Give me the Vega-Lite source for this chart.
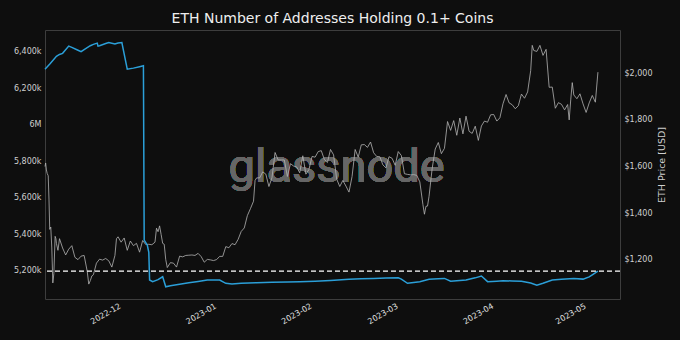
{
  "$schema": "https://vega.github.io/schema/vega-lite/v6.json",
  "width": 575,
  "height": 269,
  "autosize": {"type": "none"},
  "padding": {"left": 45, "top": 30, "right": 60, "bottom": 41},
  "background": "#0e0e0e",
  "title": {
    "text": "ETH Number of Addresses Holding 0.1+ Coins",
    "font": "DejaVu Sans",
    "fontSize": 14,
    "fontWeight": "normal",
    "color": "#eeeeee",
    "anchor": "middle",
    "offset": 4
  },
  "config": {
    "view": {"stroke": "#3d3d3d", "strokeWidth": 1},
    "axis": {
      "labelFont": "DejaVu Sans",
      "labelFontSize": 8,
      "labelColor": "#cfcfcf",
      "domain": false,
      "ticks": false,
      "grid": false,
      "labelPadding": 4,
      "labelFlush": false,
      "labelOverlap": false,
      "titleFont": "DejaVu Sans",
      "titleFontWeight": "normal",
      "titleColor": "#cfcfcf"
    }
  },
  "datasets": {
    "price": [
      {"date": "2022-11-07T07:00:00Z", "price": 1600},
      {"date": "2022-11-07T12:00:00Z", "price": 1615},
      {"date": "2022-11-07T18:00:00Z", "price": 1585},
      {"date": "2022-11-08T00:00:00Z", "price": 1570},
      {"date": "2022-11-08T08:00:00Z", "price": 1560},
      {"date": "2022-11-08T14:00:00Z", "price": 1460},
      {"date": "2022-11-08T20:00:00Z", "price": 1330},
      {"date": "2022-11-09T04:00:00Z", "price": 1340},
      {"date": "2022-11-09T12:00:00Z", "price": 1250},
      {"date": "2022-11-09T20:00:00Z", "price": 1100},
      {"date": "2022-11-10T04:00:00Z", "price": 1140},
      {"date": "2022-11-10T14:00:00Z", "price": 1300},
      {"date": "2022-11-10T20:00:00Z", "price": 1290},
      {"date": "2022-11-11T00:00:00Z", "price": 1270},
      {"date": "2022-11-11T12:00:00Z", "price": 1240},
      {"date": "2022-11-12T00:00:00Z", "price": 1290},
      {"date": "2022-11-13T00:00:00Z", "price": 1250},
      {"date": "2022-11-14T00:00:00Z", "price": 1220},
      {"date": "2022-11-15T00:00:00Z", "price": 1245},
      {"date": "2022-11-16T00:00:00Z", "price": 1260},
      {"date": "2022-11-17T00:00:00Z", "price": 1210},
      {"date": "2022-11-18T00:00:00Z", "price": 1200},
      {"date": "2022-11-19T00:00:00Z", "price": 1215},
      {"date": "2022-11-20T00:00:00Z", "price": 1218},
      {"date": "2022-11-21T00:00:00Z", "price": 1150},
      {"date": "2022-11-21T12:00:00Z", "price": 1095},
      {"date": "2022-11-22T00:00:00Z", "price": 1110},
      {"date": "2022-11-22T12:00:00Z", "price": 1130},
      {"date": "2022-11-23T00:00:00Z", "price": 1135},
      {"date": "2022-11-24T00:00:00Z", "price": 1185},
      {"date": "2022-11-25T00:00:00Z", "price": 1202},
      {"date": "2022-11-26T00:00:00Z", "price": 1198},
      {"date": "2022-11-27T00:00:00Z", "price": 1205},
      {"date": "2022-11-28T00:00:00Z", "price": 1195},
      {"date": "2022-11-29T00:00:00Z", "price": 1168},
      {"date": "2022-11-30T00:00:00Z", "price": 1218},
      {"date": "2022-11-30T12:00:00Z", "price": 1290},
      {"date": "2022-12-01T00:00:00Z", "price": 1298},
      {"date": "2022-12-02T00:00:00Z", "price": 1275},
      {"date": "2022-12-03T00:00:00Z", "price": 1293},
      {"date": "2022-12-04T00:00:00Z", "price": 1240},
      {"date": "2022-12-05T00:00:00Z", "price": 1280},
      {"date": "2022-12-06T00:00:00Z", "price": 1260},
      {"date": "2022-12-07T00:00:00Z", "price": 1270},
      {"date": "2022-12-08T00:00:00Z", "price": 1232},
      {"date": "2022-12-09T00:00:00Z", "price": 1282},
      {"date": "2022-12-10T00:00:00Z", "price": 1265},
      {"date": "2022-12-11T00:00:00Z", "price": 1266},
      {"date": "2022-12-12T00:00:00Z", "price": 1264},
      {"date": "2022-12-13T00:00:00Z", "price": 1275},
      {"date": "2022-12-13T12:00:00Z", "price": 1335},
      {"date": "2022-12-14T00:00:00Z", "price": 1320},
      {"date": "2022-12-14T12:00:00Z", "price": 1345},
      {"date": "2022-12-15T00:00:00Z", "price": 1308},
      {"date": "2022-12-15T12:00:00Z", "price": 1270},
      {"date": "2022-12-16T00:00:00Z", "price": 1266},
      {"date": "2022-12-16T12:00:00Z", "price": 1200},
      {"date": "2022-12-17T00:00:00Z", "price": 1166},
      {"date": "2022-12-18T00:00:00Z", "price": 1187},
      {"date": "2022-12-19T00:00:00Z", "price": 1185},
      {"date": "2022-12-20T00:00:00Z", "price": 1168},
      {"date": "2022-12-21T00:00:00Z", "price": 1215},
      {"date": "2022-12-22T00:00:00Z", "price": 1212},
      {"date": "2022-12-23T00:00:00Z", "price": 1218},
      {"date": "2022-12-24T00:00:00Z", "price": 1219},
      {"date": "2022-12-25T00:00:00Z", "price": 1220},
      {"date": "2022-12-26T00:00:00Z", "price": 1218},
      {"date": "2022-12-27T00:00:00Z", "price": 1227},
      {"date": "2022-12-28T00:00:00Z", "price": 1213},
      {"date": "2022-12-29T00:00:00Z", "price": 1189},
      {"date": "2022-12-30T00:00:00Z", "price": 1201},
      {"date": "2022-12-31T00:00:00Z", "price": 1199},
      {"date": "2023-01-01T00:00:00Z", "price": 1196},
      {"date": "2023-01-02T00:00:00Z", "price": 1200},
      {"date": "2023-01-03T00:00:00Z", "price": 1214},
      {"date": "2023-01-04T00:00:00Z", "price": 1214},
      {"date": "2023-01-05T00:00:00Z", "price": 1256},
      {"date": "2023-01-06T00:00:00Z", "price": 1251},
      {"date": "2023-01-07T00:00:00Z", "price": 1269},
      {"date": "2023-01-08T00:00:00Z", "price": 1264},
      {"date": "2023-01-09T00:00:00Z", "price": 1287},
      {"date": "2023-01-10T00:00:00Z", "price": 1321},
      {"date": "2023-01-11T00:00:00Z", "price": 1336},
      {"date": "2023-01-12T00:00:00Z", "price": 1389},
      {"date": "2023-01-13T00:00:00Z", "price": 1419},
      {"date": "2023-01-14T00:00:00Z", "price": 1451},
      {"date": "2023-01-14T12:00:00Z", "price": 1540},
      {"date": "2023-01-15T00:00:00Z", "price": 1551},
      {"date": "2023-01-16T00:00:00Z", "price": 1551},
      {"date": "2023-01-17T00:00:00Z", "price": 1577},
      {"date": "2023-01-18T00:00:00Z", "price": 1567},
      {"date": "2023-01-19T00:00:00Z", "price": 1514},
      {"date": "2023-01-20T00:00:00Z", "price": 1552},
      {"date": "2023-01-21T00:00:00Z", "price": 1660},
      {"date": "2023-01-22T00:00:00Z", "price": 1628},
      {"date": "2023-01-23T00:00:00Z", "price": 1628},
      {"date": "2023-01-24T00:00:00Z", "price": 1628},
      {"date": "2023-01-25T00:00:00Z", "price": 1557},
      {"date": "2023-01-26T00:00:00Z", "price": 1612},
      {"date": "2023-01-27T00:00:00Z", "price": 1602},
      {"date": "2023-01-28T00:00:00Z", "price": 1598},
      {"date": "2023-01-29T00:00:00Z", "price": 1573},
      {"date": "2023-01-30T00:00:00Z", "price": 1646},
      {"date": "2023-01-31T00:00:00Z", "price": 1567},
      {"date": "2023-02-01T00:00:00Z", "price": 1587},
      {"date": "2023-02-02T00:00:00Z", "price": 1643},
      {"date": "2023-02-03T00:00:00Z", "price": 1640},
      {"date": "2023-02-04T00:00:00Z", "price": 1664},
      {"date": "2023-02-05T00:00:00Z", "price": 1668},
      {"date": "2023-02-06T00:00:00Z", "price": 1630},
      {"date": "2023-02-07T00:00:00Z", "price": 1617},
      {"date": "2023-02-08T00:00:00Z", "price": 1673},
      {"date": "2023-02-09T00:00:00Z", "price": 1650},
      {"date": "2023-02-10T00:00:00Z", "price": 1546},
      {"date": "2023-02-11T00:00:00Z", "price": 1514},
      {"date": "2023-02-12T00:00:00Z", "price": 1540},
      {"date": "2023-02-13T00:00:00Z", "price": 1516},
      {"date": "2023-02-14T00:00:00Z", "price": 1490},
      {"date": "2023-02-15T00:00:00Z", "price": 1557},
      {"date": "2023-02-16T00:00:00Z", "price": 1673},
      {"date": "2023-02-17T00:00:00Z", "price": 1640},
      {"date": "2023-02-18T00:00:00Z", "price": 1693},
      {"date": "2023-02-19T00:00:00Z", "price": 1694},
      {"date": "2023-02-20T00:00:00Z", "price": 1682},
      {"date": "2023-02-21T00:00:00Z", "price": 1705},
      {"date": "2023-02-22T00:00:00Z", "price": 1659},
      {"date": "2023-02-23T00:00:00Z", "price": 1643},
      {"date": "2023-02-24T00:00:00Z", "price": 1642},
      {"date": "2023-02-25T00:00:00Z", "price": 1607},
      {"date": "2023-02-26T00:00:00Z", "price": 1594},
      {"date": "2023-02-27T00:00:00Z", "price": 1642},
      {"date": "2023-02-28T00:00:00Z", "price": 1635},
      {"date": "2023-03-01T00:00:00Z", "price": 1605},
      {"date": "2023-03-02T00:00:00Z", "price": 1664},
      {"date": "2023-03-03T00:00:00Z", "price": 1647},
      {"date": "2023-03-04T00:00:00Z", "price": 1569},
      {"date": "2023-03-05T00:00:00Z", "price": 1566},
      {"date": "2023-03-06T00:00:00Z", "price": 1564},
      {"date": "2023-03-07T00:00:00Z", "price": 1565},
      {"date": "2023-03-08T00:00:00Z", "price": 1562},
      {"date": "2023-03-09T00:00:00Z", "price": 1534},
      {"date": "2023-03-10T00:00:00Z", "price": 1437},
      {"date": "2023-03-10T12:00:00Z", "price": 1395},
      {"date": "2023-03-11T00:00:00Z", "price": 1429},
      {"date": "2023-03-11T12:00:00Z", "price": 1430},
      {"date": "2023-03-12T00:00:00Z", "price": 1472},
      {"date": "2023-03-13T00:00:00Z", "price": 1590},
      {"date": "2023-03-14T00:00:00Z", "price": 1675},
      {"date": "2023-03-15T00:00:00Z", "price": 1703},
      {"date": "2023-03-16T00:00:00Z", "price": 1655},
      {"date": "2023-03-17T00:00:00Z", "price": 1678},
      {"date": "2023-03-18T00:00:00Z", "price": 1793},
      {"date": "2023-03-19T00:00:00Z", "price": 1755},
      {"date": "2023-03-20T00:00:00Z", "price": 1797},
      {"date": "2023-03-21T00:00:00Z", "price": 1734},
      {"date": "2023-03-22T00:00:00Z", "price": 1808},
      {"date": "2023-03-23T00:00:00Z", "price": 1740},
      {"date": "2023-03-24T00:00:00Z", "price": 1816},
      {"date": "2023-03-25T00:00:00Z", "price": 1751},
      {"date": "2023-03-26T00:00:00Z", "price": 1742},
      {"date": "2023-03-27T00:00:00Z", "price": 1773},
      {"date": "2023-03-28T00:00:00Z", "price": 1712},
      {"date": "2023-03-29T00:00:00Z", "price": 1774},
      {"date": "2023-03-30T00:00:00Z", "price": 1795},
      {"date": "2023-03-31T00:00:00Z", "price": 1790},
      {"date": "2023-04-01T00:00:00Z", "price": 1822},
      {"date": "2023-04-02T00:00:00Z", "price": 1823},
      {"date": "2023-04-03T00:00:00Z", "price": 1795},
      {"date": "2023-04-04T00:00:00Z", "price": 1809},
      {"date": "2023-04-05T00:00:00Z", "price": 1869},
      {"date": "2023-04-06T00:00:00Z", "price": 1909},
      {"date": "2023-04-07T00:00:00Z", "price": 1873},
      {"date": "2023-04-08T00:00:00Z", "price": 1865},
      {"date": "2023-04-09T00:00:00Z", "price": 1848},
      {"date": "2023-04-10T00:00:00Z", "price": 1861},
      {"date": "2023-04-11T00:00:00Z", "price": 1911},
      {"date": "2023-04-12T00:00:00Z", "price": 1893},
      {"date": "2023-04-13T00:00:00Z", "price": 1920},
      {"date": "2023-04-14T00:00:00Z", "price": 2012},
      {"date": "2023-04-14T12:00:00Z", "price": 2120},
      {"date": "2023-04-15T00:00:00Z", "price": 2098},
      {"date": "2023-04-16T00:00:00Z", "price": 2094},
      {"date": "2023-04-17T00:00:00Z", "price": 2120},
      {"date": "2023-04-18T00:00:00Z", "price": 2077},
      {"date": "2023-04-19T00:00:00Z", "price": 2103},
      {"date": "2023-04-20T00:00:00Z", "price": 1940},
      {"date": "2023-04-21T00:00:00Z", "price": 1941},
      {"date": "2023-04-22T00:00:00Z", "price": 1850},
      {"date": "2023-04-23T00:00:00Z", "price": 1874},
      {"date": "2023-04-24T00:00:00Z", "price": 1867},
      {"date": "2023-04-25T00:00:00Z", "price": 1843},
      {"date": "2023-04-26T00:00:00Z", "price": 1866},
      {"date": "2023-04-26T12:00:00Z", "price": 1800},
      {"date": "2023-04-27T00:00:00Z", "price": 1886},
      {"date": "2023-04-27T12:00:00Z", "price": 1960},
      {"date": "2023-04-28T00:00:00Z", "price": 1907},
      {"date": "2023-04-29T00:00:00Z", "price": 1891},
      {"date": "2023-04-30T00:00:00Z", "price": 1912},
      {"date": "2023-05-01T00:00:00Z", "price": 1869},
      {"date": "2023-05-02T00:00:00Z", "price": 1832},
      {"date": "2023-05-03T00:00:00Z", "price": 1873},
      {"date": "2023-05-04T00:00:00Z", "price": 1905},
      {"date": "2023-05-05T00:00:00Z", "price": 1876},
      {"date": "2023-05-05T20:00:00Z", "price": 2005}
    ],
    "addr": [
      {"date": "2022-11-07T07:00:00Z", "addresses": 6304000},
      {"date": "2022-11-09T00:00:00Z", "addresses": 6335000},
      {"date": "2022-11-11T00:00:00Z", "addresses": 6375000},
      {"date": "2022-11-12T00:00:00Z", "addresses": 6385000},
      {"date": "2022-11-13T00:00:00Z", "addresses": 6391000},
      {"date": "2022-11-15T00:00:00Z", "addresses": 6431000},
      {"date": "2022-11-16T00:00:00Z", "addresses": 6424000},
      {"date": "2022-11-18T00:00:00Z", "addresses": 6408000},
      {"date": "2022-11-19T00:00:00Z", "addresses": 6400000},
      {"date": "2022-11-20T00:00:00Z", "addresses": 6412000},
      {"date": "2022-11-22T00:00:00Z", "addresses": 6433000},
      {"date": "2022-11-23T00:00:00Z", "addresses": 6440000},
      {"date": "2022-11-24T06:00:00Z", "addresses": 6447000},
      {"date": "2022-11-24T12:00:00Z", "addresses": 6431000},
      {"date": "2022-11-25T00:00:00Z", "addresses": 6433000},
      {"date": "2022-11-27T00:00:00Z", "addresses": 6445000},
      {"date": "2022-11-28T00:00:00Z", "addresses": 6450000},
      {"date": "2022-11-30T00:00:00Z", "addresses": 6442000},
      {"date": "2022-12-01T00:00:00Z", "addresses": 6448000},
      {"date": "2022-12-02T06:00:00Z", "addresses": 6450000},
      {"date": "2022-12-04T00:00:00Z", "addresses": 6304000},
      {"date": "2022-12-06T00:00:00Z", "addresses": 6310000},
      {"date": "2022-12-08T00:00:00Z", "addresses": 6318000},
      {"date": "2022-12-09T06:00:00Z", "addresses": 6323000},
      {"date": "2022-12-09T12:00:00Z", "addresses": 5367000},
      {"date": "2022-12-10T12:00:00Z", "addresses": 5340000},
      {"date": "2022-12-11T00:00:00Z", "addresses": 5300000},
      {"date": "2022-12-11T06:00:00Z", "addresses": 5148000},
      {"date": "2022-12-12T06:00:00Z", "addresses": 5139000},
      {"date": "2022-12-14T00:00:00Z", "addresses": 5150000},
      {"date": "2022-12-15T12:00:00Z", "addresses": 5166000},
      {"date": "2022-12-16T12:00:00Z", "addresses": 5111000},
      {"date": "2022-12-18T00:00:00Z", "addresses": 5117000},
      {"date": "2022-12-21T00:00:00Z", "addresses": 5125000},
      {"date": "2022-12-24T00:00:00Z", "addresses": 5133000},
      {"date": "2022-12-27T00:00:00Z", "addresses": 5140000},
      {"date": "2022-12-30T00:00:00Z", "addresses": 5148000},
      {"date": "2023-01-03T00:00:00Z", "addresses": 5148000},
      {"date": "2023-01-05T00:00:00Z", "addresses": 5130000},
      {"date": "2023-01-07T00:00:00Z", "addresses": 5126000},
      {"date": "2023-01-10T00:00:00Z", "addresses": 5130000},
      {"date": "2023-01-15T00:00:00Z", "addresses": 5133000},
      {"date": "2023-01-20T00:00:00Z", "addresses": 5136000},
      {"date": "2023-01-25T00:00:00Z", "addresses": 5137000},
      {"date": "2023-01-29T00:00:00Z", "addresses": 5139000},
      {"date": "2023-02-03T00:00:00Z", "addresses": 5142000},
      {"date": "2023-02-08T00:00:00Z", "addresses": 5146000},
      {"date": "2023-02-14T00:00:00Z", "addresses": 5152000},
      {"date": "2023-02-18T00:00:00Z", "addresses": 5155000},
      {"date": "2023-02-22T00:00:00Z", "addresses": 5157000},
      {"date": "2023-02-26T00:00:00Z", "addresses": 5159000},
      {"date": "2023-03-02T00:00:00Z", "addresses": 5160000},
      {"date": "2023-03-03T00:00:00Z", "addresses": 5153000},
      {"date": "2023-03-05T00:00:00Z", "addresses": 5130000},
      {"date": "2023-03-07T00:00:00Z", "addresses": 5135000},
      {"date": "2023-03-09T00:00:00Z", "addresses": 5139000},
      {"date": "2023-03-12T00:00:00Z", "addresses": 5152000},
      {"date": "2023-03-15T00:00:00Z", "addresses": 5155000},
      {"date": "2023-03-17T00:00:00Z", "addresses": 5157000},
      {"date": "2023-03-19T00:00:00Z", "addresses": 5142000},
      {"date": "2023-03-22T00:00:00Z", "addresses": 5146000},
      {"date": "2023-03-24T00:00:00Z", "addresses": 5148000},
      {"date": "2023-03-27T00:00:00Z", "addresses": 5160000},
      {"date": "2023-03-29T00:00:00Z", "addresses": 5170000},
      {"date": "2023-03-31T00:00:00Z", "addresses": 5139000},
      {"date": "2023-04-03T00:00:00Z", "addresses": 5142000},
      {"date": "2023-04-05T00:00:00Z", "addresses": 5144000},
      {"date": "2023-04-08T00:00:00Z", "addresses": 5143000},
      {"date": "2023-04-11T00:00:00Z", "addresses": 5141000},
      {"date": "2023-04-14T00:00:00Z", "addresses": 5132000},
      {"date": "2023-04-16T00:00:00Z", "addresses": 5120000},
      {"date": "2023-04-18T00:00:00Z", "addresses": 5130000},
      {"date": "2023-04-21T00:00:00Z", "addresses": 5148000},
      {"date": "2023-04-24T00:00:00Z", "addresses": 5152000},
      {"date": "2023-04-28T00:00:00Z", "addresses": 5157000},
      {"date": "2023-05-01T00:00:00Z", "addresses": 5153000},
      {"date": "2023-05-03T00:00:00Z", "addresses": 5165000},
      {"date": "2023-05-04T00:00:00Z", "addresses": 5176000},
      {"date": "2023-05-05T20:00:00Z", "addresses": 5197000}
    ],
    "threshold": [
      {"addresses": 5197000}
    ]
  },
  "layer": [
    {
      "data": {"name": "price"},
      "layer": [
        {
          "mark": {
            "type": "text",
            "text": "glassnode",
            "font": "Roboto",
            "fontSize": 47,
            "fontWeight": "normal",
            "color": "#666666",
            "align": "center",
            "baseline": "alphabetic"
          },
          "encoding": {
            "x": {
              "datum": {"year": 2023, "month": 2, "date": 10, "utc": true},
              "type": "temporal",
              "scale": {
                "type": "utc",
                "domain": [
                  {"year": 2022, "month": 11, "date": 7, "hours": 7, "utc": true},
                  {"year": 2023, "month": 5, "date": 13, "utc": true}
                ]
              },
              "axis": {
                "title": null,
                "format": "%Y-%m",
                "labelAngle": -30,
                "labelAlign": "right",
                "labelBaseline": "top",
                "labelPadding": 3,
                "labelColor": "#e0e0e0",
                "values": [
                  {"year": 2022, "month": 12, "date": 1, "utc": true},
                  {"year": 2023, "month": 1, "date": 1, "utc": true},
                  {"year": 2023, "month": 2, "date": 1, "utc": true},
                  {"year": 2023, "month": 3, "date": 1, "utc": true},
                  {"year": 2023, "month": 4, "date": 1, "utc": true},
                  {"year": 2023, "month": 5, "date": 1, "utc": true}
                ]
              }
            },
            "y": {"datum": 1533, "type": "quantitative"}
          }
        },
        {
          "mark": {"type": "line", "color": "#b4b4b4", "strokeWidth": 0.8},
          "encoding": {
            "x": {"field": "date", "type": "temporal"},
            "y": {
              "field": "price",
              "type": "quantitative",
              "scale": {"domain": [1031, 2186], "nice": false, "zero": false},
              "axis": {
                "orient": "right",
                "title": "ETH Price [USD]",
                "titleFontSize": 9.5,
                "titleAngle": 270,
                "titleBaseline": "top",
                "titlePadding": 5,
                "format": "$,.0f",
                "values": [1200, 1400, 1600, 1800, 2000]
              }
            }
          }
        }
      ]
    },
    {
      "layer": [
        {
          "data": {"name": "addr"},
          "mark": {"type": "line", "color": "#2b9fd8", "strokeWidth": 1.5},
          "encoding": {
            "x": {"field": "date", "type": "temporal"},
            "y": {
              "field": "addresses",
              "type": "quantitative",
              "scale": {"domain": [5044000, 6519000], "nice": false, "zero": false},
              "axis": {
                "orient": "left",
                "title": null,
                "values": [5200000, 5400000, 5600000, 5800000, 6000000, 6200000, 6400000],
                "labelExpr": "datum.value == 6000000 ? '6M' : format(datum.value / 1000, ',') + 'k'"
              }
            }
          }
        },
        {
          "data": {"name": "threshold"},
          "mark": {"type": "rule", "color": "#ffffff", "strokeDash": [5, 3], "strokeWidth": 1.4},
          "encoding": {
            "y": {"field": "addresses", "type": "quantitative"}
          }
        }
      ]
    }
  ],
  "resolve": {"scale": {"y": "independent"}}
}
